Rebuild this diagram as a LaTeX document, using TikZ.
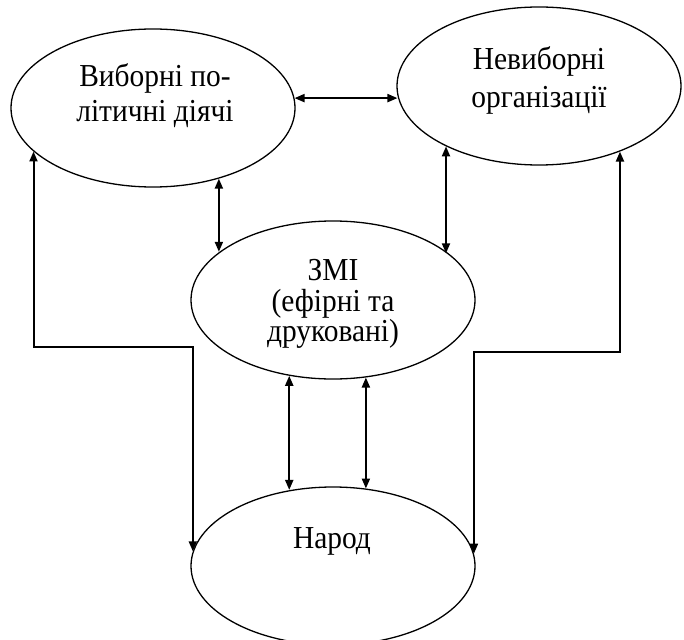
\documentclass[tikz,border=0pt]{standalone}
\usepackage{fontspec}
\setmainfont[FakeStretch=0.92]{Liberation Serif}
\usetikzlibrary{shapes.geometric,arrows.meta}
\begin{document}
\begin{tikzpicture}[x=1pt,y=-1pt,
  ell/.style={ellipse, draw, line width=1.3pt, minimum width=284pt, minimum height=158pt, inner sep=0pt},
  txt/.style={anchor=base, inner sep=0pt, font=\fontsize{32}{34}\selectfont},
  conn/.style={line width=2pt, {Triangle[length=10pt,width=8pt]}-{Triangle[length=10pt,width=8pt]}}]
\useasboundingbox (0,0) rectangle (684,639);
\node[ell] (A) at (153,108) {};
\node[ell] (B) at (539,86) {};
\node[ell] (Z) at (333,300) {};
\node[ell] (N) at (333,566) {};
\node[txt] (A1) at (155,87) {Виборні по-};
\node[txt] (A2) at (155,122) {літичні діячі};
\node[txt] (B1) at (539,70) {Невиборні};
\node[txt] (B2) at (539,108) {організації};
\node[txt] (Z1) at (333,280) {ЗМІ};
\node[txt] (Z2) at (333,311) {(ефірні та};
\node[txt] (Z3) at (333,341) {друковані)};
\node[txt] (N1) at (332,548) {Народ};
% A <-> B
\draw[conn] (A.4.06) -- (A.4.06 -| B.184.9);
% A <-> Z
\draw[conn] (A.313.4) -- (A.313.4 |- Z.157.56);
% B <-> Z
\draw[conn] (B.213.2) -- (B.213.2 |- Z.22.44);
% Z <-> N
\draw[conn] (Z.240.3) -- (Z.240.3 |- N.119.7);
\draw[conn] (Z.293) -- (Z.293 |- N.67);
% outer loops
\coordinate (lk) at (35,347);
\coordinate (rk) at (621,352);
\draw[conn] (A.200.4) |- (N.174.6 |- lk) -- (N.174.6);
\draw[conn] (B.321.8) |- (N.5.4 |- rk) -- (N.5.4);
\end{tikzpicture}
\end{document}
